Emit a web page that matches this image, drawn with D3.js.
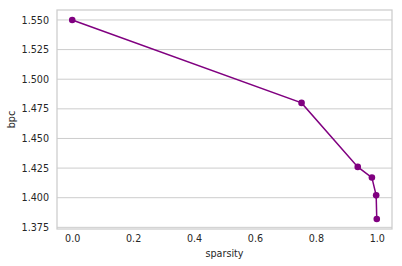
<!DOCTYPE html>
<html><head><meta charset="utf-8">
<script src="https://cdn.jsdelivr.net/npm/d3@7"></script>
<style>body{margin:0;background:#fff;} text{font-family:"DejaVu Sans",sans-serif;fill:#262626;}</style>
</head><body><svg id="c" width="402" height="266"></svg>
<script>
const sparsity = [0, 0.753, 0.9375, 0.984, 0.998, 1.0];
const bpc = [1.550, 1.480, 1.426, 1.417, 1.402, 1.382];
const xTicks = [0, 0.2, 0.4, 0.6, 0.8, 1.0];
const yTicks = [1.375, 1.400, 1.425, 1.450, 1.475, 1.500, 1.525, 1.550];

const svg = d3.select("#c");
const L = 57, R = 392, T = 10, B = 229;
const x = d3.scaleLinear().domain([-0.05, 1.05]).range([L, R]);
const y = d3.scaleLinear().domain([1.3736, 1.5584]).range([B, T]);

svg.append("rect").attr("x", 0).attr("y", 0).attr("width", 402).attr("height", 266).attr("fill", "#fff");

// grid
svg.append("g").selectAll("line").data(yTicks).join("line")
  .attr("x1", L).attr("x2", R).attr("y1", d => y(d)).attr("y2", d => y(d))
  .attr("stroke", "#cccccc").attr("stroke-width", 1);

// spines
svg.append("rect").attr("x", L).attr("y", T).attr("width", R - L).attr("height", B - T)
  .attr("fill", "none").attr("stroke", "#cccccc").attr("stroke-width", 1.25);

// axes
const fs = "9.6px";
const xa = svg.append("g").attr("transform", `translate(0,${B})`)
  .call(d3.axisBottom(x).tickValues(xTicks).tickSize(0).tickPadding(6).tickFormat(d3.format(".1f")));
xa.select(".domain").remove();
xa.selectAll("text").style("font-size", fs).attr("fill", "#262626");

const ya = svg.append("g").attr("transform", `translate(${L},0)`)
  .call(d3.axisLeft(y).tickValues(yTicks).tickSize(0).tickPadding(8).tickFormat(d3.format(".3f")));
ya.select(".domain").remove();
ya.selectAll("text").style("font-size", fs).attr("fill", "#262626");

svg.append("text").attr("x", (L + R) / 2).attr("y", 257).attr("text-anchor", "middle")
  .style("font-size", fs).text("sparsity");
svg.append("text").attr("transform", `translate(15,${(T + B) / 2}) rotate(-90)`).attr("text-anchor", "middle")
  .style("font-size", fs).text("bpc");

const pts = sparsity.map((s, i) => [s, bpc[i]]);
svg.append("path").datum(pts)
  .attr("d", d3.line().x(d => x(d[0])).y(d => y(d[1])))
  .attr("fill", "none").attr("stroke", "#800080").attr("stroke-width", 1.5);
svg.append("g").selectAll("circle").data(pts).join("circle")
  .attr("cx", d => x(d[0])).attr("cy", d => y(d[1])).attr("r", 3.3).attr("fill", "#800080");
</script></body></html>
